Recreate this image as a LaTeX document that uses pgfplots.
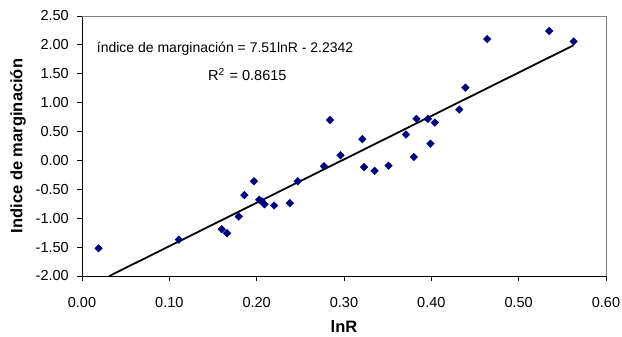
\documentclass[border=0pt]{standalone}
\usepackage{fontspec}
\setmainfont{Liberation Sans}
\usepackage{pgfplots}
\pgfplotsset{compat=1.18}
\definecolor{navyc}{RGB}{0,0,128}
\begin{document}
\begin{tikzpicture}
\useasboundingbox (-82pt,-61pt) rectangle (540pt,276pt);
\begin{axis}[
  at={(0,0)}, anchor=south west,
  scale only axis, width=524pt, height=260pt,
  xmin=0, xmax=0.6, ymin=-2, ymax=2.5,
  xtick={0,0.1,...,0.6}, ytick={-2,-1.5,...,2.5},
  axis x line*=bottom, axis y line*=left,
  axis line style={black, line width=0.8pt, -},
  tick style={black, line width=0.8pt},
  tick align=outside, major tick length=5pt,
  /pgf/number format/assume math mode=true,
  /pgf/number format/fixed, /pgf/number format/fixed zerofill,
  /pgf/number format/precision=2,
  ticklabel style={font=\fontsize{14.5}{16}\selectfont},
  yticklabel style={anchor=east, inner sep=0pt, xshift=-8pt},
  xticklabel style={anchor=north, inner sep=0pt, yshift=-16pt},
  xlabel={lnR}, ylabel={Indice de marginación},
  label style={font=\bfseries\fontsize{16.5}{18}\selectfont},
  xlabel style={at={(axis description cs:0.5,-0.196)}, anchor=center},
  ylabel style={at={(axis description cs:-0.1221,0.5)}, anchor=center, rotate=0},
  clip=false,
]
\draw[gray, line width=0.8pt] (rel axis cs:0,1) -- (rel axis cs:1,1) -- (rel axis cs:1,0);
\addplot[only marks, mark=square*, mark size=2.7pt, mark options={rotate=45, fill=navyc, draw=navyc}] coordinates {
(0.019,-1.52) (0.111,-1.37) (0.160,-1.19) (0.166,-1.26) (0.1795,-0.97)
(0.186,-0.60) (0.197,-0.36) (0.203,-0.68) (0.206,-0.71) (0.209,-0.76)
(0.220,-0.78) (0.238,-0.74) (0.247,-0.36) (0.277,-0.10) (0.284,0.70)
(0.296,0.09) (0.321,0.37) (0.323,-0.115) (0.335,-0.18) (0.351,-0.09)
(0.371,0.45) (0.380,0.06) (0.383,0.72) (0.396,0.72) (0.399,0.29)
(0.404,0.655) (0.432,0.88) (0.439,1.26) (0.464,2.10) (0.535,2.24)
(0.563,2.06)
};
\addplot[black, line width=1.8pt, no marks] coordinates {(0.0313,-2.0) (0.563,1.994)};
\node[anchor=west, inner sep=0pt, font=\fontsize{14}{16}\selectfont] at (axis cs:0.0168,1.931) {índice de marginación = 7.51lnR - 2.2342};
\node[anchor=west, inner sep=0pt, font=\fontsize{14.5}{16}\selectfont] at (axis cs:0.1441,1.483) {R\textsuperscript{2}\hspace{5pt}= 0.8615};
\end{axis}
\end{tikzpicture}
\end{document}
